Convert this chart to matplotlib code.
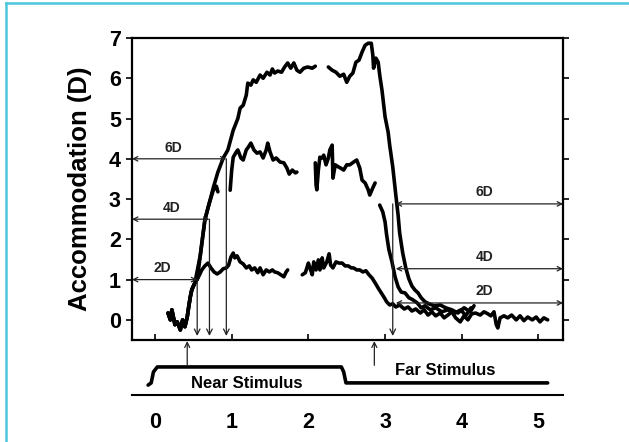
import numpy as np
import matplotlib
matplotlib.use("Agg")
import matplotlib.pyplot as plt
from matplotlib.lines import Line2D

plt.rcParams['font.family'] = ['Liberation Sans', 'DejaVu Sans']

nan = np.nan

# ---- data (time in s, accommodation in D) ----
start_x = [0.17, 0.20, 0.22, 0.26, 0.29, 0.33, 0.36, 0.39, 0.42, 0.44, 0.46, 0.48, 0.52]
start_y = [0.17, 0.00, 0.25, -0.12, -0.05, -0.25, 0.00, -0.17, 0.07, 0.33, 0.57, 0.75, 0.92]

d6_x = start_x + [0.55, 0.65, 0.76, 0.82, 0.89, 0.95, 1.02, 1.08, 1.11, 1.15, 1.19, 1.21, 1.25,
                  1.28, 1.32, 1.37, 1.41, 1.46, 1.50, 1.53, 1.56, 1.60, 1.65, 1.69, 1.73, 1.77,
                  1.81, 1.85, 1.89, 1.94, 1.99, 2.05, 2.09, 2.17,
                  2.26, 2.31, 2.36, 2.41, 2.46, 2.50, 2.54, 2.58, 2.62, 2.66, 2.70, 2.74, 2.78,
                  2.82, 2.84, 2.85, 2.88, 2.91, 2.93, 2.96, 3.00, 3.04, 3.06, 3.10, 3.14, 3.17,
                  3.19, 3.23, 3.27, 3.31, 3.35, 3.39, 3.43, 3.47, 3.52, 3.57, 3.64, 3.72, 3.79,
                  3.87, 3.95, 4.03, 4.11, 4.16]
d6_y = start_y + [1.00, 2.48, 3.28, 3.67, 4.02, 4.22, 4.71, 5.00, 5.26, 5.33, 5.58, 5.88, 5.83,
                  5.96, 5.90, 6.08, 6.00, 6.15, 6.08, 6.23, 6.13, 6.18, 6.15, 6.28, 6.38, 6.25,
                  6.38, 6.20, 6.15, 6.25, 6.28, 6.25, 6.30, nan,
                  6.28, 6.20, 6.15, 6.05, 6.10, 5.90, 6.05, 6.13, 6.40, 6.45, 6.65, 6.82, 6.87,
                  6.87, 6.58, 6.25, 6.50, 6.40, 6.08, 5.70, 5.04, 4.66, 4.34, 3.80, 3.10, 2.60,
                  2.16, 1.66, 1.29, 1.02, 0.84, 0.74, 0.67, 0.55, 0.45, 0.40, 0.35, 0.37, 0.30,
                  0.25, 0.17, 0.30, 0.20, 0.35]

d4_x = start_x + [0.59, 0.65, 0.70, 0.76, 0.80, 0.82, 0.90,
                  0.98, 1.00, 1.02, 1.06, 1.08, 1.12, 1.15, 1.19, 1.21, 1.25, 1.29, 1.33, 1.37,
                  1.41, 1.45, 1.47, 1.50, 1.54, 1.58, 1.63, 1.68, 1.72, 1.75, 1.79, 1.83, 1.85, 1.97,
                  2.09, 2.10, 2.11, 2.13, 2.15, 2.18, 2.20, 2.23, 2.26, 2.28, 2.31, 2.32, 2.35,
                  2.39, 2.42, 2.46, 2.50, 2.54, 2.59, 2.63, 2.67, 2.70, 2.74, 2.78, 2.80, 2.84,
                  2.87, 2.90,
                  2.93, 2.97, 3.00, 3.02, 3.05, 3.09, 3.13, 3.17, 3.21, 3.26, 3.31, 3.36, 3.42,
                  3.47, 3.52, 3.59, 3.66, 3.74, 3.82, 3.91, 3.99, 4.05, 4.12]
d4_y = start_y + [1.60, 2.48, 2.85, 3.22, 3.32, 3.18, nan,
                  3.22, 3.72, 4.04, 4.17, 4.22, 4.02, 3.97, 4.22, 4.27, 4.39, 4.22, 4.14, 4.17,
                  4.02, 4.22, 4.39, 4.17, 3.97, 4.02, 3.92, 3.90, 3.77, 3.62, 3.72, 3.65, 3.67, nan,
                  3.90, 3.35, 3.23, 3.72, 4.04, 4.02, 4.09, 3.85, 4.02, 4.22, 4.34, 3.52, 3.85,
                  3.80, 3.77, 3.72, 3.85, 3.85, 3.92, 3.97, 3.77, 3.47, 3.40, 3.23, 3.10, 3.28,
                  3.40, nan,
                  2.85, 2.68, 2.43, 2.11, 1.74, 1.44, 1.07, 0.82, 0.69, 0.67, 0.55, 0.50, 0.42,
                  0.30, 0.35, 0.25, 0.30, 0.20, 0.25, 0.17, 0.25, 0.10, 0.30]

d2_x = start_x + [0.56, 0.61, 0.65, 0.69, 0.73, 0.77, 0.81, 0.85, 0.89, 0.93, 0.96, 0.99, 1.02,
                  1.04, 1.07, 1.11, 1.15, 1.19, 1.23, 1.26, 1.30, 1.34, 1.37, 1.41, 1.45, 1.49,
                  1.53, 1.56, 1.60, 1.64, 1.68, 1.71, 1.73, 1.82,
                  1.92, 1.96, 2.00, 2.02, 2.05, 2.07, 2.10, 2.13, 2.15, 2.18, 2.20, 2.24, 2.27,
                  2.29, 2.32, 2.36, 2.40, 2.44, 2.48, 2.52, 2.56, 2.59, 2.63, 2.67, 2.71, 2.75,
                  2.79, 2.83, 2.87, 2.91, 2.95, 2.99, 3.02, 3.06, 3.10, 3.14, 3.19, 3.25, 3.30,
                  3.35, 3.40, 3.46, 3.51, 3.56, 3.61, 3.66, 3.72, 3.77, 3.82, 3.87, 3.92, 3.98,
                  4.03, 4.08, 4.13, 4.18, 4.24, 4.29, 4.34, 4.38, 4.42, 4.45, 4.47, 4.50, 4.55,
                  4.60, 4.65, 4.71, 4.76, 4.81, 4.86, 4.92, 4.97, 5.02, 5.07, 5.12]
d2_y = start_y + [1.04, 1.24, 1.34, 1.41, 1.29, 1.19, 1.14, 1.19, 1.27, 1.29, 1.36, 1.56, 1.66,
                  1.54, 1.59, 1.44, 1.39, 1.29, 1.34, 1.24, 1.29, 1.17, 1.29, 1.12, 1.24, 1.19,
                  1.24, 1.19, 1.17, 1.12, 1.07, 1.19, 1.24, nan,
                  1.12, 1.17, 1.41, 1.29, 1.12, 1.44, 1.24, 1.49, 1.24, 1.54, 1.29, 1.44, 1.64,
                  1.36, 1.29, 1.44, 1.41, 1.41, 1.34, 1.34, 1.29, 1.29, 1.24, 1.24, 1.19, 1.22,
                  1.12, 1.04, 0.92, 0.79, 0.67, 0.55, 0.45, 0.37, 0.40, 0.32, 0.37, 0.27, 0.32,
                  0.22, 0.27, 0.17, 0.25, 0.12, 0.20, 0.10, 0.17, 0.05, 0.12, 0.20, 0.05, -0.05,
                  0.10, 0.00, 0.15, 0.17, 0.12, 0.20, 0.15, 0.10, 0.20, -0.12, -0.20, 0.05, 0.10,
                  0.05, 0.12, 0.00, 0.10, -0.02, 0.07, 0.00, 0.07, -0.05, 0.05, 0.00]

# response-time markers
level_labels = ['2D', '4D', '6D']
near_levels = [1.0, 2.5, 4.0]
near_times = [0.55, 0.71, 0.93]
far_levels = [0.42, 1.27, 2.88]
far_time = 3.10

stim_x = [-0.09, -0.05, -0.02, 0.03, 2.43, 2.46, 2.49, 5.12]
stim_y = [0.18, 0.22, 0.42, 0.51, 0.51, 0.42, 0.22, 0.22]
stim_onsets = [0.42, 2.86]

x_ticks = [0, 1, 2, 3, 4, 5]
y_ticks = [0, 1, 2, 3, 4, 5, 6, 7]

# ---- figure ----
W, H = 629, 442
fig = plt.figure(figsize=(W / 100, H / 100), dpi=100)

L, R, T, B = 132, 563, 38, 340
ax = fig.add_axes([L / W, 1 - B / H, (R - L) / W, (B - T) / H])
xmin, xmax = -0.30, 5.32
ax.set_xlim(xmin, xmax)
ax.set_ylim(-0.5, 7.0)

lw = 2.6
for xs, ys in [(d2_x, d2_y), (d4_x, d4_y), (d6_x, d6_y)]:
    ax.plot(xs, ys, color='black', lw=lw, solid_joinstyle='round', solid_capstyle='round')

arrow_kw = dict(arrowstyle='<->', lw=0.9, color='#222222', shrinkA=0, shrinkB=0,
                mutation_scale=8)
down_kw = dict(arrowstyle='->', lw=0.9, color='#222222', shrinkA=0, shrinkB=0,
               mutation_scale=10)
for lab, lev, t in zip(level_labels, near_levels, near_times):
    ax.annotate('', xy=(t, lev), xytext=(xmin, lev), arrowprops=arrow_kw)
    ax.annotate('', xy=(t, -0.4), xytext=(t, lev), arrowprops=down_kw)
left_lab_pos = [(0.09, 1.29), (0.22, 2.78), (0.24, 4.28)]
for lab, (lx, ly) in zip(level_labels, left_lab_pos):
    ax.text(lx, ly, lab, ha='center', va='center', fontsize=10, fontweight='bold',
            color='#222222')

for lab, lev in zip(level_labels, far_levels):
    ax.annotate('', xy=(xmax, lev), xytext=(far_time + 0.04, lev), arrowprops=arrow_kw)
    ax.text(4.30, lev + 0.30, lab, ha='center', va='center', fontsize=10,
            fontweight='bold', color='#222222')
ax.annotate('', xy=(far_time, -0.4), xytext=(far_time, max(far_levels)), arrowprops=down_kw)

ax.set_xticks(x_ticks)
ax.set_xticklabels([])
ax.set_yticks(y_ticks)
ax.set_yticklabels([str(v) for v in y_ticks], fontsize=15.5, fontweight='bold')
ax.tick_params(axis='x', direction='in', length=4, width=1.2, top=False)
ax.tick_params(axis='y', direction='out', length=4, width=1.2, pad=4, right=True)
ax.tick_params(axis='y', which='both', labelright=False)
for s in ax.spines.values():
    s.set_linewidth(1.6)
ax.set_ylabel('Accommodation (D)', fontsize=18.5, fontweight='bold')
ax.yaxis.set_label_coords(-0.092, 0.5)

# stimulus panel
B2 = 395
ax2 = fig.add_axes([L / W, 1 - B2 / H, (R - L) / W, (B2 - B) / H])
ax2.set_xlim(xmin, xmax)
ax2.set_ylim(0, 1)
ax2.plot(stim_x, stim_y, color='black', lw=2.6, solid_capstyle='round',
         solid_joinstyle='round')
for t in stim_onsets:
    ax2.annotate('', xy=(t, 0.98), xytext=(t, 0.54),
                 arrowprops=dict(arrowstyle='->', lw=0.9, color='#222222',
                                 shrinkA=0, shrinkB=0, mutation_scale=9))
ax2.text(1.20, 0.21, 'Near Stimulus', ha='center', va='center', fontsize=12,
         fontweight='bold')
ax2.text(3.78, 0.44, 'Far Stimulus', ha='center', va='center', fontsize=12,
         fontweight='bold')
for k in ['top', 'left', 'right']:
    ax2.spines[k].set_visible(False)
ax2.spines['bottom'].set_linewidth(1.5)
ax2.set_yticks([])
ax2.set_xticks(x_ticks)
ax2.set_xticklabels([str(v) for v in x_ticks], fontsize=15.5, fontweight='bold')
ax2.tick_params(axis='x', length=0, pad=12)
ax2.patch.set_visible(False)

# light blue frame
frame_c = '#4cc6da'
fig.add_artist(Line2D([6 / W, 1.0], [1 - 3 / H, 1 - 3 / H], color=frame_c, lw=1.8,
                      transform=fig.transFigure))
fig.add_artist(Line2D([6 / W, 6 / W], [0.0, 1 - 3 / H], color=frame_c, lw=1.8,
                      transform=fig.transFigure))

fig.savefig('out.png', dpi=100)
